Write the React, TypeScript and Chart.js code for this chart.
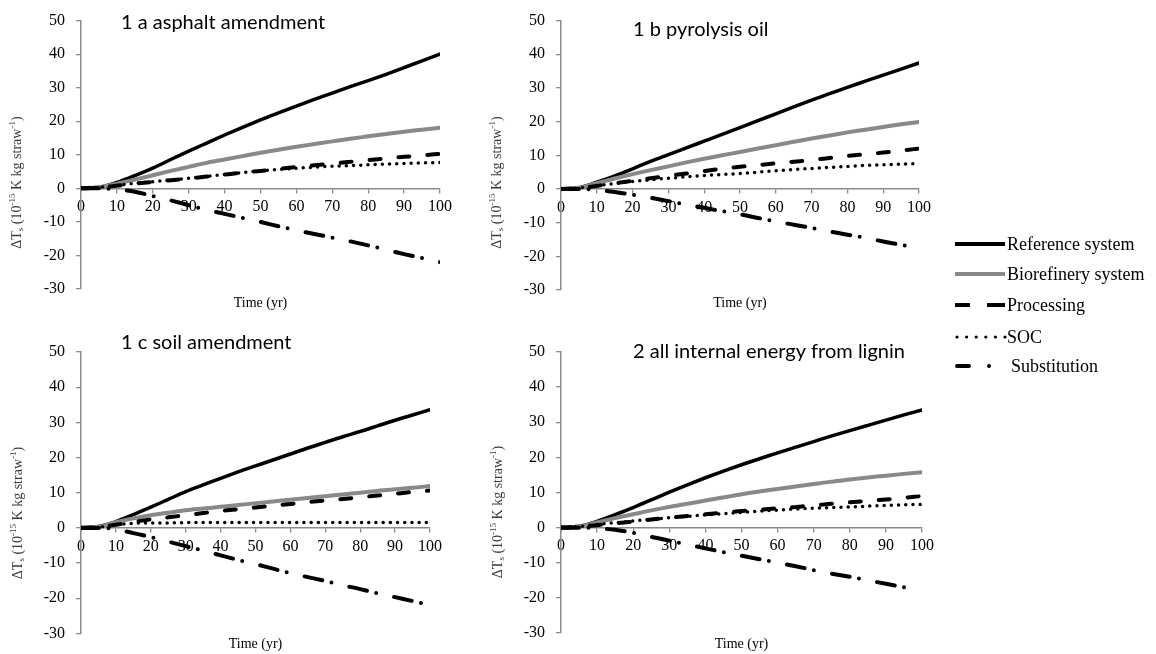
import React, { useEffect, useRef } from 'react';
import { Chart, registerables } from 'chart.js';

Chart.register(...registerables);

// ---------------- DATA ----------------
const years = [0, 5, 10, 15, 20, 25, 30, 35, 40, 45, 50, 55, 60, 65, 70, 75, 80, 85, 90, 95, 100];

const seriesNames = ['Reference system', 'Biorefinery system', 'Processing', 'SOC', 'Substitution'];

// 1 a asphalt amendment
const refA = [0, 0.3, 1.8, 3.8, 6.0, 8.6, 11.1, 13.5, 15.9, 18.2, 20.4, 22.5, 24.5, 26.5, 28.4, 30.3, 32.1, 34.0, 36.0, 38.0, 40.0];
const bioA = [0, 0.3, 1.4, 2.6, 3.9, 5.2, 6.4, 7.6, 8.6, 9.6, 10.6, 11.5, 12.4, 13.2, 14.0, 14.8, 15.5, 16.2, 16.9, 17.5, 18.1];
const procA = [0, 0.2, 0.8, 1.4, 1.9, 2.4, 2.9, 3.5, 4.1, 4.7, 5.2, 5.8, 6.4, 6.9, 7.4, 7.9, 8.4, 8.9, 9.4, 9.8, 10.3];
const socA = [0, 0.3, 0.9, 1.5, 2.0, 2.5, 3.0, 3.6, 4.1, 4.7, 5.2, 5.6, 6.0, 6.3, 6.6, 6.8, 7.0, 7.2, 7.4, 7.6, 7.7];
const subA = [0, 0, -0.3, -1.0, -2.3, -3.6, -5.0, -6.4, -7.6, -8.8, -10.0, -11.3, -12.5, -13.6, -14.7, -15.8, -17.0, -18.3, -19.6, -20.8, -22.0];

// 1 b pyrolysis oil
const refB = [0, 0.4, 2.0, 3.9, 6.0, 8.2, 10.2, 12.2, 14.2, 16.2, 18.2, 20.3, 22.3, 24.4, 26.4, 28.3, 30.2, 32.0, 33.8, 35.6, 37.4];
const bioB = [0, 0.4, 1.7, 3.1, 4.4, 5.6, 6.7, 7.9, 9.0, 10.0, 11.0, 12.0, 13.0, 14.0, 15.0, 15.9, 16.8, 17.6, 18.4, 19.2, 19.9];
const procB = [0, 0.2, 0.9, 1.7, 2.4, 3.2, 3.9, 4.6, 5.3, 6.0, 6.6, 7.1, 7.6, 8.1, 8.6, 9.2, 9.8, 10.3, 10.8, 11.4, 12.0];
const socB = [0, 0.3, 1.0, 1.6, 2.2, 2.7, 3.2, 3.6, 4.0, 4.3, 4.6, 5.0, 5.4, 5.8, 6.1, 6.4, 6.7, 7.0, 7.2, 7.4, 7.5];
const subB = [0, 0, -0.3, -0.9, -1.7, -2.6, -3.6, -4.6, -5.6, -6.6, -7.5, -8.6, -9.7, -10.6, -11.6, -12.6, -13.6, -14.5, -15.6, -16.6, -17.7];

// 1 c soil amendment
const refC = [0, 0.4, 1.8, 3.8, 5.9, 8.1, 10.3, 12.2, 14.1, 15.9, 17.6, 19.3, 21.0, 22.7, 24.3, 25.9, 27.4, 29.0, 30.6, 32.1, 33.6];
const bioC = [0, 0.3, 1.6, 2.7, 3.6, 4.3, 5.0, 5.5, 6.0, 6.5, 7.0, 7.5, 8.0, 8.5, 9.0, 9.5, 10.0, 10.5, 11.0, 11.4, 11.9];
const procC = [0, 0.2, 0.9, 1.7, 2.4, 3.0, 3.6, 4.2, 4.8, 5.3, 5.8, 6.3, 6.8, 7.3, 7.8, 8.2, 8.7, 9.2, 9.7, 10.2, 10.6];
const socC = [0, 0.2, 0.9, 1.3, 1.4, 1.4, 1.5, 1.5, 1.5, 1.5, 1.5, 1.5, 1.5, 1.5, 1.5, 1.5, 1.5, 1.5, 1.5, 1.5, 1.5];
const subC = [0, 0, -0.4, -1.5, -2.6, -3.9, -5.2, -6.5, -7.8, -9.1, -10.3, -11.6, -12.9, -14.0, -15.1, -16.3, -17.4, -18.6, -19.7, -20.8, -21.9];

// 2 all internal energy from lignin
const refD = [0, 0.4, 1.8, 3.7, 5.7, 7.9, 10.1, 12.2, 14.2, 16.1, 17.9, 19.6, 21.3, 22.9, 24.5, 26.1, 27.6, 29.1, 30.6, 32.1, 33.5];
const bioD = [0, 0.3, 1.5, 2.7, 3.8, 4.9, 5.9, 6.8, 7.7, 8.6, 9.5, 10.3, 11.0, 11.7, 12.4, 13.1, 13.7, 14.3, 14.8, 15.3, 15.8];
const procD = [0, 0.2, 0.7, 1.2, 1.7, 2.3, 2.8, 3.3, 3.8, 4.3, 4.7, 5.1, 5.5, 5.9, 6.3, 6.8, 7.2, 7.6, 8.0, 8.5, 9.0];
const socD = [0, 0.3, 0.9, 1.4, 1.9, 2.4, 2.8, 3.2, 3.6, 4.0, 4.3, 4.7, 5.0, 5.3, 5.5, 5.7, 5.9, 6.1, 6.3, 6.5, 6.6];
const subD = [0, 0, -0.2, -0.6, -1.5, -2.6, -3.7, -4.8, -5.9, -7.0, -8.0, -9.0, -10.0, -11.0, -12.1, -13.1, -14.0, -15.0, -16.0, -17.0, -18.0];

const panelTitles = ['1 a asphalt amendment', '1 b pyrolysis oil', '1 c soil amendment', '2 all internal energy from lignin'];
const xAxisTitle = 'Time (yr)';
const yMin = -30;
const yMax = 50;
const yStep = 10;
const xMin = 0;
const xMax = 100;
const xStep = 10;

// Y axis label as rich-text segments
const yLabelSegments: { t: string; k: 'n' | 'sub' | 'sup' }[] = [
  { t: 'ΔT', k: 'n' },
  { t: 's', k: 'sub' },
  { t: ' (10', k: 'n' },
  { t: '-15', k: 'sup' },
  { t: ' K kg straw', k: 'n' },
  { t: '-1', k: 'sup' },
  { t: ')', k: 'n' },
];

// ---------------- STYLES ----------------
const SERIF = '"Liberation Serif", "Times New Roman", serif';
const SANS = 'Lato, "Open Sans", sans-serif';
const AXIS_COLOR = '#8a8a8a';
const GRAY = '#898989';

const lineStyles = [
  { color: '#000000', width: 3.5, dash: [] as number[], cap: 'round' },
  { color: GRAY, width: 4, dash: [] as number[], cap: 'round' },
  { color: '#000000', width: 4, dash: [11, 18], cap: 'round' },
  { color: '#000000', width: 3.5, dash: [0, 7.2], cap: 'round' },
  { color: '#000000', width: 4, dash: [18, 9.5, 0, 18.4], cap: 'round' },
];

type PanelCfg = {
  x: number; y: number; w: number; h: number;
  padTop: number; padRight: number; bottomH: number; titlePadBottom: number;
  title: string; titleDx: number; titleDy: number;
  yLabelX: number; yLabelDy: number;
  series: number[][];
};

const panels: PanelCfg[] = [
  { x: 0, y: 0, w: 480, h: 320, padTop: 17, padRight: 40, bottomH: 31, titlePadBottom: 8,
    title: panelTitles[0], titleDx: 40, titleDy: 8, yLabelX: 17, yLabelDy: 162,
    series: [refA, bioA, procA, socA, subA] },
  { x: 480, y: 0, w: 480, h: 320, padTop: 17, padRight: 41, bottomH: 30, titlePadBottom: 8,
    title: panelTitles[1], titleDx: 72, titleDy: 15, yLabelX: 17, yLabelDy: 162,
    series: [refB, bioB, procB, socB, subB] },
  { x: 0, y: 320, w: 480, h: 334, padTop: 32, padRight: 50, bottomH: 20, titlePadBottom: 1,
    title: panelTitles[2], titleDx: 40, titleDy: -3, yLabelX: 18, yLabelDy: 161,
    series: [refC, bioC, procC, socC, subC] },
  { x: 480, y: 320, w: 480, h: 334, padTop: 32, padRight: 38, bottomH: 21, titlePadBottom: 1,
    title: panelTitles[3], titleDx: 72, titleDy: 6, yLabelX: 18, yLabelDy: 160,
    series: [refD, bioD, procD, socD, subD] },
];

function makePlugins(cfg: PanelCfg) {
  const titlePlugin = {
    id: 'panelTitle',
    afterDraw(chart: any) {
      const { ctx, chartArea } = chart;
      ctx.save();
      ctx.font = `20px ${SANS}`;
      ctx.fillStyle = '#000';
      ctx.textBaseline = 'alphabetic';
      ctx.textAlign = 'left';
      ctx.fillText(cfg.title, chartArea.left + cfg.titleDx, chartArea.top + cfg.titleDy);
      ctx.restore();
    },
  };
  const yLabelPlugin = {
    id: 'yRichLabel',
    afterDraw(chart: any) {
      const { ctx, chartArea } = chart;
      const big = `14px ${SERIF}`;
      const small = `9px ${SERIF}`;
      ctx.save();
      let total = 0;
      const widths = yLabelSegments.map((s) => {
        ctx.font = s.k === 'n' ? big : small;
        const w = ctx.measureText(s.t).width;
        total += w;
        return w;
      });
      ctx.translate(cfg.yLabelX, chartArea.top + cfg.yLabelDy);
      ctx.rotate(-Math.PI / 2);
      ctx.fillStyle = '#3a3a3a';
      ctx.textBaseline = 'middle';
      ctx.textAlign = 'left';
      let pos = -total / 2;
      yLabelSegments.forEach((s, i) => {
        ctx.font = s.k === 'n' ? big : small;
        const dy = s.k === 'sub' ? 4 : s.k === 'sup' ? -4 : 0;
        ctx.fillText(s.t, pos, dy);
        pos += widths[i];
      });
      ctx.restore();
    },
  };
  return [titlePlugin, yLabelPlugin];
}

function Panel({ cfg }: { cfg: PanelCfg }) {
  const ref = useRef<HTMLCanvasElement>(null);
  useEffect(() => {
    if (!ref.current) return;
    const datasets = cfg.series.map((vals, i) => ({
      label: seriesNames[i],
      data: years.map((yr, j) => ({ x: yr, y: vals[j] })),
      borderColor: lineStyles[i].color,
      borderWidth: lineStyles[i].width,
      borderDash: lineStyles[i].dash,
      borderCapStyle: lineStyles[i].cap,
      borderJoinStyle: 'round',
      pointRadius: 0,
      fill: false,
      cubicInterpolationMode: 'monotone',
      order: 4 - i,
    }));
    const tickFont = { family: SERIF, size: 16 };
    const chart = new Chart(ref.current, {
      type: 'line',
      data: { datasets } as any,
      plugins: makePlugins(cfg) as any,
      options: {
        responsive: false,
        animation: false,
        devicePixelRatio: 1,
        layout: { padding: { left: 0, right: cfg.padRight, top: cfg.padTop, bottom: 0 } },
        plugins: { legend: { display: false }, tooltip: { enabled: false } },
        scales: {
          x: {
            type: 'linear',
            min: xMin,
            max: xMax,
            position: { y: 0 } as any,
            ticks: { stepSize: xStep, font: tickFont, color: '#000', padding: 5, maxRotation: 0, autoSkip: false },
            grid: { display: true, drawOnChartArea: false, drawTicks: true, tickLength: 4, color: AXIS_COLOR, lineWidth: 1.3 },
            border: { display: true, color: AXIS_COLOR, width: 1.5 },
          },
          xt: {
            type: 'linear',
            axis: 'x',
            min: xMin,
            max: xMax,
            position: 'bottom',
            ticks: { display: false },
            grid: { display: false, drawTicks: false },
            border: { display: false },
            title: { display: true, text: xAxisTitle, color: '#000', font: { family: SERIF, size: 14 }, padding: { top: 0, bottom: cfg.titlePadBottom } },
            afterFit: (s: any) => { s.height = cfg.bottomH; },
          } as any,
          y: {
            type: 'linear',
            min: yMin,
            max: yMax,
            position: 'left',
            ticks: { stepSize: yStep, font: tickFont, color: '#000', padding: 11 },
            grid: { display: true, drawOnChartArea: false, drawTicks: true, tickLength: 5, color: AXIS_COLOR, lineWidth: 1.3 },
            border: { display: true, color: AXIS_COLOR, width: 1.5 },
            afterFit: (s: any) => { s.width = 81; },
          },
        },
      } as any,
    });
    return () => chart.destroy();
  }, [cfg]);
  return (
    <canvas
      ref={ref}
      width={cfg.w}
      height={cfg.h}
      style={{ position: 'absolute', left: cfg.x, top: cfg.y, width: cfg.w, height: cfg.h }}
    />
  );
}

const legendRows = [
  { name: seriesNames[0], cy: 244, textX: 1007 },
  { name: seriesNames[1], cy: 274, textX: 1007 },
  { name: seriesNames[2], cy: 305, textX: 1007 },
  { name: seriesNames[3], cy: 337, textX: 1007 },
  { name: seriesNames[4], cy: 366, textX: 1011 },
];

function LegendSample({ i }: { i: number }) {
  const c = lineStyles[i].color;
  if (i === 0 || i === 1) return <line x1={0} y1={5} x2={50} y2={5} stroke={c} strokeWidth={4} />;
  if (i === 2) return <line x1={0} y1={5} x2={50} y2={5} stroke={c} strokeWidth={4} strokeDasharray="15 17 18" />;
  if (i === 3) return <line x1={2} y1={5} x2={51} y2={5} stroke={c} strokeWidth={3.2} strokeLinecap="round" strokeDasharray="0 9.6" />;
  return <line x1={2} y1={5} x2={40} y2={5} stroke={c} strokeWidth={4} strokeLinecap="round" strokeDasharray="12 20 0 100" />;
}

function Legend() {
  return (
    <>
      {legendRows.map((r, i) => (
        <React.Fragment key={r.name}>
          <svg width={54} height={10} style={{ position: 'absolute', left: 955, top: r.cy - 5, overflow: 'visible' }}>
            <LegendSample i={i} />
          </svg>
          <div
            style={{
              position: 'absolute',
              left: r.textX,
              top: r.cy - 12,
              height: 24,
              lineHeight: '24px',
              fontFamily: SERIF,
              fontSize: 18,
              color: '#000',
              whiteSpace: 'nowrap',
            }}
          >
            {r.name}
          </div>
        </React.Fragment>
      ))}
    </>
  );
}

export default function App() {
  return (
    <div style={{ position: 'absolute', left: 0, top: 0, width: 1156, height: 654, background: '#fff', overflow: 'hidden' }}>
      {panels.map((p, i) => (
        <Panel key={i} cfg={p} />
      ))}
      <Legend />
    </div>
  );
}
